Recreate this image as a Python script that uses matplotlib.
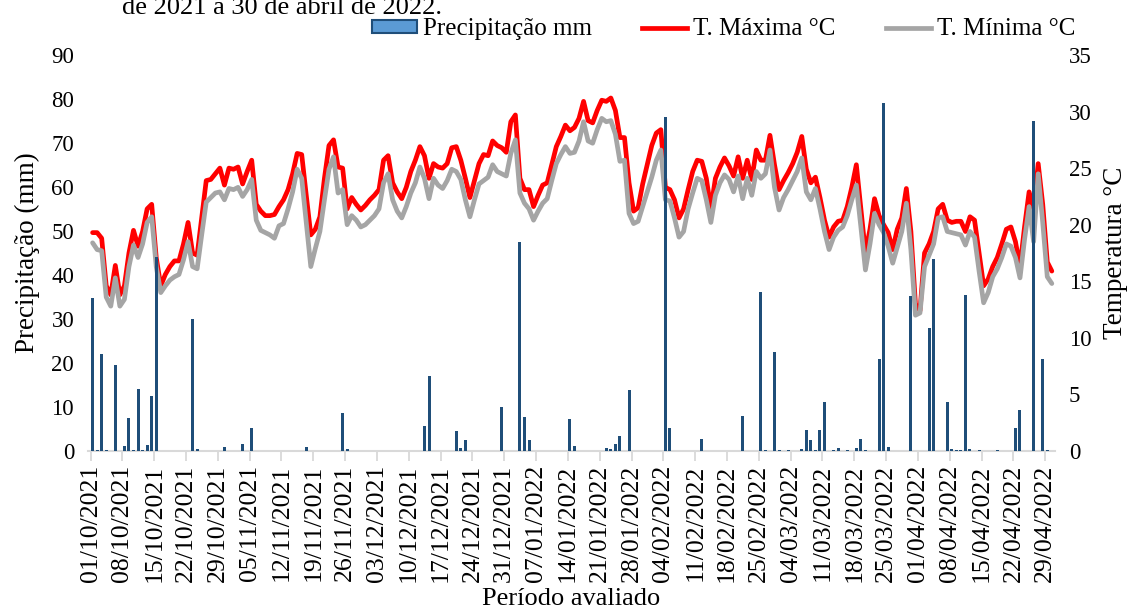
import matplotlib
matplotlib.use("Agg")
import matplotlib.pyplot as plt
from matplotlib.patches import Patch
from matplotlib.lines import Line2D
import numpy as np

plt.rcParams['font.family'] = ['Liberation Serif', 'DejaVu Serif']

# ---------------- data (daily, 01/10/2021 .. 30/04/2022) ----------------
tmax_c = [19.3, 19.3, 18.8, 14.6, 13.8, 16.4, 13.8, 14.6, 17.5, 19.5,
          18.1, 19.4, 21.4, 21.8, 17.1, 14.6, 15.6, 16.3, 16.8, 16.8,
          18.3, 20.2, 17.5, 17.3, 20.6, 23.9, 24.0, 24.5, 25.0, 23.5,
          25.0, 24.9, 25.1, 23.6, 24.7, 25.7, 21.8, 21.2, 20.8, 20.8,
          20.9, 21.6, 22.2, 23.1, 24.5, 26.3, 26.2, 22.6, 19.1, 19.6,
          20.7, 24.1, 27.0, 27.5, 25.1, 25.0, 21.4, 22.4, 21.8, 21.3,
          21.7, 22.2, 22.6, 23.1, 25.7, 26.1, 23.7, 22.9, 22.3, 23.3,
          24.7, 25.7, 26.9, 26.1, 24.1, 25.4, 25.1, 25.0, 25.4, 26.8,
          26.9, 25.7, 24.1, 22.4, 23.9, 25.4, 26.2, 26.1, 27.4, 27.0,
          26.8, 26.4, 29.1, 29.7, 24.1, 23.1, 23.1, 21.6, 22.6, 23.5,
          23.7, 25.3, 26.9, 27.8, 28.8, 28.3, 28.6, 29.4, 30.9, 29.2,
          29.0, 30.1, 31.0, 30.9, 31.2, 30.1, 27.7, 27.7, 23.7, 21.2,
          21.5, 23.6, 25.3, 27.0, 28.1, 28.4, 23.3, 23.1, 22.2, 20.6,
          21.4, 23.1, 24.7, 25.7, 25.6, 24.1, 21.4, 24.1, 25.1, 25.9,
          25.2, 24.3, 26.0, 24.1, 25.7, 24.0, 26.6, 25.7, 25.7, 27.9,
          25.3, 23.1, 23.9, 24.6, 25.4, 26.4, 27.8, 24.9, 23.7, 24.2,
          22.4, 20.4, 18.9, 19.8, 20.3, 20.4, 21.6, 23.3, 25.3, 21.4,
          17.5, 19.6, 22.3, 20.8, 20.0, 19.3, 17.8, 19.6, 20.6, 23.2,
          19.4, 13.0, 12.4, 17.5, 18.3, 19.4, 21.4, 21.8, 20.4, 20.2,
          20.3, 20.3, 19.4, 20.7, 20.4, 17.5, 14.6, 15.2, 16.3, 17.1,
          18.3, 19.6, 19.8, 18.5, 16.3, 19.8, 22.9, 21.4, 25.4, 21.8,
          16.7, 15.9]

tmin_c = [18.4, 17.8, 17.7, 13.6, 12.8, 15.3, 12.8, 13.4, 16.3, 18.2,
          17.1, 18.3, 20.2, 20.7, 16.3, 14.0, 14.6, 15.1, 15.4, 15.6,
          16.9, 18.5, 16.3, 16.1, 19.1, 22.0, 22.4, 22.8, 22.9, 22.2,
          23.2, 23.1, 23.3, 22.5, 23.1, 24.0, 20.4, 19.5, 19.3, 19.1,
          18.8, 19.9, 20.1, 21.4, 22.9, 24.9, 24.1, 20.2, 16.3, 17.9,
          19.4, 22.2, 24.9, 26.0, 22.8, 23.1, 20.0, 20.8, 20.4, 19.8,
          20.0, 20.4, 20.8, 21.4, 23.7, 24.5, 22.2, 21.2, 20.6, 21.6,
          22.8, 23.7, 25.1, 24.1, 22.3, 24.1, 23.5, 23.2, 23.9, 24.9,
          24.7, 24.0, 22.2, 20.7, 22.2, 23.6, 23.9, 24.2, 25.3, 24.7,
          24.5, 24.3, 26.3, 27.5, 22.8, 21.9, 21.4, 20.4, 21.2, 21.9,
          22.3, 23.9, 25.4, 26.2, 26.9, 26.3, 26.4, 27.4, 29.1, 27.4,
          27.2, 28.4, 29.4, 29.1, 29.2, 28.0, 25.6, 25.7, 21.0, 20.1,
          20.3, 21.6, 22.9, 24.2, 25.7, 26.6, 22.2, 22.1, 20.6, 18.9,
          19.4, 21.4, 22.8, 24.1, 23.9, 22.2, 20.2, 22.6, 23.7, 24.4,
          24.0, 22.9, 24.3, 22.3, 24.1, 22.6, 24.7, 24.1, 24.5, 26.6,
          23.3, 21.3, 22.4, 23.1, 23.9, 24.7, 25.9, 22.9, 22.2, 23.2,
          21.4, 19.4, 17.8, 18.9, 19.5, 19.8, 20.8, 22.2, 23.5, 19.8,
          16.0, 18.3, 21.0, 20.0, 19.3, 18.1, 16.6, 18.0, 19.4, 21.9,
          17.8, 12.0, 12.2, 16.3, 17.3, 18.3, 20.6, 20.7, 19.4, 19.3,
          19.2, 19.1, 18.2, 19.4, 18.9, 15.9, 13.1, 14.0, 15.4, 16.1,
          17.1, 18.3, 18.1, 17.1, 15.3, 18.7, 21.6, 18.5, 24.5, 20.2,
          15.4, 14.8]

# rainy days (day index from 01/10/2021) and precipitation (mm)
rain_day = [0, 1, 2, 3, 5, 7, 8, 9, 10, 11, 12, 13, 14, 22, 23, 29, 33, 35,
            47, 55, 56, 73, 74, 80, 81, 82, 90, 94, 95, 96, 105, 106, 113,
            114, 115, 116, 118, 126, 127, 134, 143, 147, 148, 150, 151, 153,
            156, 157, 158, 159, 160, 161, 163, 164, 166, 168, 169, 170, 173,
            174, 175, 180, 184, 185, 188, 189, 190, 191, 192, 193, 195, 199,
            203, 204, 207, 209, 210]
rain_mm = [34.7, 0.3, 22.0, 0.3, 19.5, 1.1, 7.6, 0.3, 14.0, 0.3, 1.3, 12.5,
           44.0, 30.0, 0.5, 0.8, 1.6, 5.2, 1.0, 8.7, 0.5, 5.7, 17.0, 4.6,
           0.7, 2.5, 10.0, 47.4, 7.7, 2.5, 7.3, 1.1, 0.7, 0.5, 1.7, 3.4,
           13.9, 76.0, 5.2, 2.7, 8.0, 36.2, 0.3, 22.6, 0.3, 0.3, 0.5, 4.8,
           2.5, 0.3, 4.8, 11.2, 0.3, 0.7, 0.3, 0.7, 2.7, 0.3, 21.0, 79.0,
           0.8, 35.2, 27.9, 43.6, 11.2, 0.5, 0.3, 0.3, 35.5, 0.5, 0.3, 0.2,
           5.3, 9.3, 75.0, 21.0, 0.3]

tick_labels = ["01/10/2021", "08/10/2021", "15/10/2021", "22/10/2021",
               "29/10/2021", "05/11/2021", "12/11/2021", "19/11/2021",
               "26/11/2021", "03/12/2021", "10/12/2021", "17/12/2021",
               "24/12/2021", "31/12/2021", "07/01/2022", "14/01/2022",
               "21/01/2022", "28/01/2022", "04/02/2022", "11/02/2022",
               "18/02/2022", "25/02/2022", "04/03/2022", "11/03/2022",
               "18/03/2022", "25/03/2022", "01/04/2022", "08/04/2022",
               "15/04/2022", "22/04/2022", "29/04/2022"]

# ---------------- figure ----------------
fig = plt.figure(figsize=(11.36, 6.13), dpi=100)
ax_t = fig.add_axes([0.0775, 0.2643, 0.8512, 0.6460])
ax_p = ax_t.twinx()

days = np.arange(len(tmax_c))
ax_t.plot(days, tmax_c, color='#FF0000', lw=3.4, solid_joinstyle='round',
          solid_capstyle='round', zorder=2)
ax_t.plot(days, tmin_c, color='#A5A5A5', lw=3.4, solid_joinstyle='round',
          solid_capstyle='round', zorder=3)
ax_t.set_ylim(0, 35)
ax_t.set_yticks(np.arange(0, 36, 5))

ax_p.bar(rain_day, rain_mm, width=0.66, color='#1F4E79', zorder=4)
ax_p.set_ylim(0, 90)
ax_p.set_yticks(np.arange(0, 91, 10))

# precipitation scale on the left, temperature on the right
ax_p.yaxis.tick_left()
ax_p.yaxis.set_label_position('left')
ax_t.yaxis.tick_right()
ax_t.yaxis.set_label_position('right')

ax_t.set_xlim(-1.0, 211.7)
tick_pos = np.arange(len(tick_labels)) * 7 - 0.45
ax_t.set_xticks(tick_pos)
ax_t.set_xticklabels(tick_labels, rotation=90, fontsize=18.5)

for a in (ax_t, ax_p):
    for s in ('top', 'left', 'right'):
        a.spines[s].set_visible(False)
    a.spines['bottom'].set_color('#D9D9D9')
    a.spines['bottom'].set_linewidth(1.5)
ax_p.spines['bottom'].set_visible(False)

ax_t.tick_params(axis='x', length=7, width=1.3, color='#D9D9D9', pad=3)
ax_t.tick_params(axis='y', length=0, labelsize=16.5, pad=10)
ax_p.tick_params(axis='y', length=0, labelsize=16.5, pad=10)

ax_p.set_ylabel('Precipitação (mm)', fontsize=19.5, labelpad=8)
ax_t.set_ylabel('Temperatura °C', fontsize=19.5, labelpad=8)
ax_t.set_xlabel('Período avaliado', fontsize=19, labelpad=4)

handles = [Patch(facecolor='#5B9BD5', edgecolor='#1F4E79', linewidth=1.5),
           Line2D([0], [0], color='#FF0000', lw=3.4),
           Line2D([0], [0], color='#A5A5A5', lw=3.4)]
fig.legend(handles, ['Precipitação mm', 'T. Máxima °C', 'T. Mínima °C'],
           loc='center', bbox_to_anchor=(0.637, 0.952), ncol=3,
           frameon=False, fontsize=18, handlelength=1.8, handleheight=0.45,
           handletextpad=0.25, columnspacing=2.0)

fig.text(122 / 1136, 1 - 14 / 613, 'de 2021 a 30 de abril de 2022.',
         fontsize=19, va='baseline', ha='left')

fig.savefig('out.png', dpi=100)
